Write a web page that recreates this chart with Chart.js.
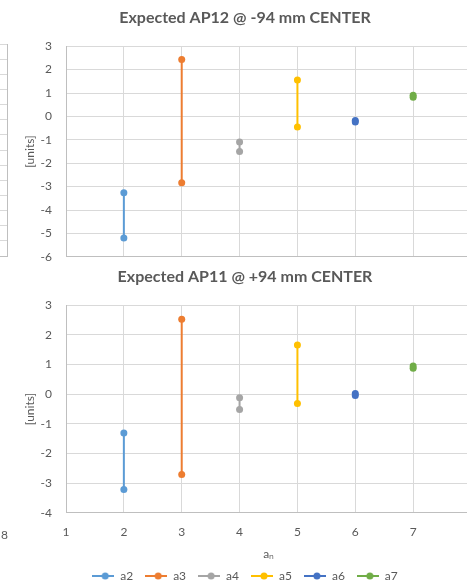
<!DOCTYPE html>
<html>
<head>
<meta charset="utf-8">
<script src="https://cdn.jsdelivr.net/npm/chart.js@4/dist/chart.umd.min.js"></script>
<style>
  html, body { margin: 0; padding: 0; background: #fff; overflow: hidden; width: 467px; height: 583px; }
  canvas { position: absolute; }
</style>
</head>
<body>
<canvas id="leftTop" style="left:-403px;top:0px;width:420px;height:263px" width="420" height="263"></canvas>
<canvas id="leftBottom" style="left:-403px;top:258px;width:420px;height:298px" width="420" height="298"></canvas>
<canvas id="ap12" style="left:0px;top:0px;width:500px;height:278px" width="500" height="278"></canvas>
<canvas id="ap11" style="left:0px;top:259px;width:500px;height:333px" width="500" height="333"></canvas>
<script>
const names = ['a2', 'a3', 'a4', 'a5', 'a6', 'a7'];
const positions = [2, 3, 4, 5, 6, 7];
const colors = ['#5B9BD5', '#ED7D31', '#A5A5A5', '#FFC000', '#4472C4', '#70AD47'];

// AP12 @ -94 mm : two expected values per coefficient
const ap12Upper = [-3.26, 2.43, -1.09, 1.56, -0.17, 0.9];
const ap12Lower = [-5.2, -2.84, -1.5, -0.45, -0.24, 0.82];

// AP11 @ +94 mm
const ap11Upper = [-1.31, 2.53, -0.12, 1.66, 0.02, 0.95];
const ap11Lower = [-3.22, -2.71, -0.52, -0.32, -0.05, 0.87];

const xTicks = [1, 2, 3, 4, 5, 6, 7, 8];

const textColor = '#595959';
const gridColor = '#d9d9d9';
const axisColor = '#bfbfbf';
const fontFamily = 'Lato, "Open Sans", sans-serif';

function legendMarker(color) {
  const c = document.createElement('canvas');
  c.width = 22;
  c.height = 10;
  const g = c.getContext('2d');
  g.strokeStyle = color;
  g.lineWidth = 2;
  g.beginPath();
  g.moveTo(0, 5);
  g.lineTo(22, 5);
  g.stroke();
  g.fillStyle = color;
  g.beginPath();
  g.arc(13, 5, 3.5, 0, Math.PI * 2);
  g.fill();
  return c;
}

function buildDatasets(upper, lower) {
  return names.map((name, i) => ({
    label: name,
    data: [{ x: positions[i], y: upper[i] }, { x: positions[i], y: lower[i] }],
    borderColor: colors[i],
    backgroundColor: colors[i],
    borderWidth: 2,
    pointRadius: 3.5,
    pointBorderWidth: 0,
    pointHoverRadius: 3.5,
  }));
}

function createChart(id, title, upper, lower, yMin, yMax, isBottom) {
  const ctx = document.getElementById(id).getContext('2d');
  return new Chart(ctx, {
    type: 'line',
    data: { datasets: buildDatasets(upper, lower) },
    options: {
      responsive: false,
      animation: false,
      // left padding keeps title and legend centred on the (cropped) chart box
      layout: { padding: { left: 19, right: 29, top: 0, bottom: 0 } },
      plugins: {
        tooltip: { enabled: false },
        title: {
          display: true,
          text: title,
          color: textColor,
          font: { family: fontFamily, size: 16, weight: 'bold' },
          padding: { top: 8, bottom: 19 },
        },
        legend: {
          display: isBottom,
          position: 'bottom',
          labels: {
            color: textColor,
            font: { family: fontFamily, size: 12 },
            usePointStyle: true,
            pointStyleWidth: 22,
            padding: 12,
            generateLabels: () => names.map((name, i) => ({
              text: name,
              pointStyle: legendMarker(colors[i]),
              fillStyle: colors[i],
              strokeStyle: colors[i],
              lineWidth: 0,
              fontColor: textColor,
              datasetIndex: i,
            })),
          },
        },
      },
      scales: {
        x: {
          type: 'linear',
          min: 1,
          max: 8,
          afterBuildTicks: (scale) => {
            scale.ticks = xTicks.map((v) => ({ value: v }));
          },
          grid: {
            color: gridColor,
            drawTicks: isBottom,
            tickLength: 6,
            tickColor: 'rgba(0,0,0,0)',
          },
          border: { color: axisColor },
          ticks: {
            display: isBottom,
            color: textColor,
            font: { family: fontFamily, size: 12 },
            padding: 6.5,
          },
          title: {
            display: isBottom,
            text: 'aₙ',
            color: textColor,
            font: { family: fontFamily, size: 12 },
            padding: { top: 0.5, bottom: -3 },
          },
        },
        y: {
          min: yMin,
          max: yMax,
          afterFit: (scale) => {
            scale.width = 47;
          },
          grid: { color: gridColor, drawTicks: false },
          border: { color: axisColor },
          ticks: {
            stepSize: 1,
            color: textColor,
            font: { family: fontFamily, size: 12 },
            padding: 14,
          },
          title: {
            display: true,
            text: '[units]',
            color: textColor,
            font: { family: fontFamily, size: 12 },
            padding: { top: 4, bottom: 0 },
          },
        },
      },
    },
  });
}

// partially visible neighbouring charts at the left edge (cropped, no data shown)
function createNeighbour(id, intervals, top, bottom, showLabels) {
  const ctx = document.getElementById(id).getContext('2d');
  return new Chart(ctx, {
    type: 'line',
    data: { datasets: [] },
    options: {
      responsive: false,
      animation: false,
      layout: { padding: { left: 0, right: 10, top, bottom } },
      plugins: { legend: { display: false }, tooltip: { enabled: false } },
      scales: {
        x: {
          type: 'linear',
          min: 1,
          max: 8,
          grid: { display: false, drawTicks: false },
          border: { color: axisColor },
          ticks: {
            display: showLabels,
            stepSize: 1,
            color: textColor,
            font: { family: fontFamily, size: 12 },
            padding: 14,
            labelOffset: 5,
          },
        },
        y: {
          min: 0,
          max: intervals,
          position: 'right',
          afterFit: (scale) => {
            scale.width = 0;
          },
          grid: { color: gridColor, drawTicks: false },
          border: { color: axisColor },
          ticks: { display: false, stepSize: 1 },
        },
      },
    },
  });
}

createNeighbour('leftTop', 14, 44, 7, false);
createNeighbour('leftBottom', 16, 45, 0, true);
createChart('ap12', 'Expected AP12 @ -94 mm CENTER', ap12Upper, ap12Lower, -6, 3, false);
createChart('ap11', 'Expected AP11 @ +94 mm CENTER', ap11Upper, ap11Lower, -4, 3, true);
</script>
</body>
</html>
